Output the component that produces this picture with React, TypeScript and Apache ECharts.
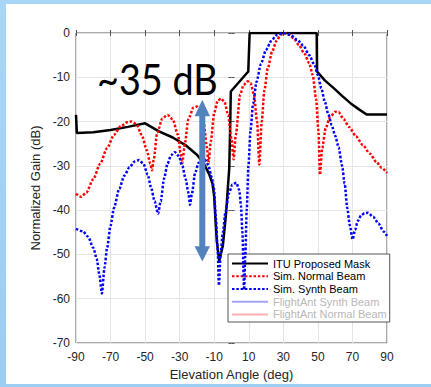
import React, { useEffect, useRef } from "react";
import * as echarts from "echarts";

// ITU Proposed Mask
const maskAngle = [-90, -89.5, -80, -70, -60, -50, -42, -34, -26, -20, -16, -13, -11, -10, -9.3, -8.5, -7.1, -5, -3.2, -1.3, -0.7, -0.4, 9.7, 10.5, 49.3, 49.5, 54, 59, 64, 69, 74, 78.2, 90];
const maskGain = [-18.5, -22.6, -22.4, -21.9, -21.2, -20.4, -22.2, -23.6, -25.5, -27.5, -29.5, -31.8, -34, -37, -42, -47, -51.5, -48, -41, -30.5, -20, -13.2, -8.7, 0, 0, -8.7, -10.7, -12.4, -14.2, -15.9, -17.3, -18.4, -18.4];

// Sim. Normal Beam
const normalAngle = [-90, -87, -84, -80, -76, -72, -68, -64, -60, -58, -55, -52, -49, -47, -46, -45, -43, -40, -37, -34, -31, -29.5, -28.5, -27, -25, -22, -20, -18, -16, -14.2, -13.3, -12, -10, -8, -6, -4, -2, 0, 1.2, 2.5, 5, 7, 9.4, 11, 13, 14.8, 16.1, 17.5, 19, 21, 23.5, 26, 28.5, 31, 33, 36, 39, 42, 45, 47, 49, 50.3, 51.2, 52.5, 54.5, 57, 60, 62, 65, 68, 72, 76, 80, 84, 87, 90];
const normalGain = [-36.3, -37, -36, -33, -29.5, -26, -23, -21, -20.1, -20, -20.6, -23, -26.5, -29.5, -31, -28.5, -22.5, -19.3, -18.5, -19.5, -23, -27, -29.4, -25, -19.5, -16.8, -16.6, -17.5, -20.5, -26, -29.4, -24.5, -18, -15.3, -14.8, -15.6, -18.5, -24, -28.5, -23, -13.9, -11.7, -10.9, -11.3, -13.9, -20, -29.7, -20, -13, -8, -4.2, -1.8, -0.4, 0, -0.3, -1.2, -2.7, -4.5, -6.8, -9.5, -15, -22, -32, -26, -21.5, -19, -17.8, -17.9, -19.5, -21.2, -23.3, -25.3, -27.2, -29.2, -30.5, -31.6];

// Sim. Synth Beam
const synthAngle = [-90, -86, -83, -80, -78, -76.5, -75, -73.5, -72, -70, -68, -65, -62, -59, -56, -53.5, -51, -48.5, -46.5, -44.5, -42.5, -41, -39, -37, -35, -32.8, -30.5, -28.5, -26.5, -25, -24, -23, -21, -19, -17, -15.3, -13.5, -11.5, -10.2, -9, -8, -7.3, -6.3, -5, -3.5, -1.5, 0.5, 2.8, 4.5, 5.5, 6.3, 7.3, 8, 8.8, 9.8, 11, 12.5, 14.5, 17, 20, 23, 26, 30, 34, 38, 41.5, 45, 48, 50, 52, 54, 56, 58, 60, 62, 64, 65.5, 67, 68.5, 70.1, 71.5, 73, 75, 77, 79, 82, 85, 88, 90];
const synthGain = [-44.2, -44.8, -46, -48.5, -51, -54.5, -58.8, -53, -48.5, -43.5, -39.5, -35.2, -32.2, -30.3, -29, -28.7, -29.5, -32, -35, -38, -40.8, -38, -32.8, -29.5, -27.6, -26.9, -27.8, -30, -33, -36, -38.8, -36.5, -31.5, -29.3, -28.6, -28.6, -29.8, -32.5, -35, -42, -49, -57, -50, -45, -40.5, -36.2, -34.2, -33.8, -35.5, -39, -45, -58, -50, -40, -30, -22, -16, -11, -7, -3.8, -1.8, -0.5, 0, -0.4, -1.5, -2.8, -5, -7.2, -9.5, -12.5, -15.5, -18.3, -20.8, -23.2, -25.8, -30, -34, -39.5, -43.5, -46.6, -44.5, -42.5, -41.2, -40.7, -40.6, -41.5, -43, -44.8, -45.8];

const seriesNames = ["ITU Proposed Mask", "Sim. Normal Beam", "Sim. Synth Beam", "FlightAnt Synth Beam", "FlightAnt Normal Beam"];
const xTickMin = -90;
const xTickMax = 90;
const xTickStep = 20;
const yTickMin = -70;
const yTickMax = 0;
const yTickStep = 10;

const zip = (a: number[], b: number[]) => a.map((v, i) => [v, b[i]]);

const FONT = "'Liberation Sans', Arial, sans-serif";

export default function App() {
  const ref = useRef<HTMLDivElement>(null);
  useEffect(() => {
    if (!ref.current) return;
    const chart = echarts.init(ref.current, null, { renderer: "svg" });
    const axisCommon = {
      type: "value" as const,
      axisLine: { show: false },
      axisTick: { show: true, inside: true, length: 3, lineStyle: { color: "#555", width: 1 } },
    };
    chart.setOption({
      animation: false,
      grid: { left: 76, top: 33, width: 311, height: 310, show: true, borderColor: "#555", borderWidth: 1, backgroundColor: "transparent" },
      xAxis: [
        {
          ...axisCommon,
          min: xTickMin, max: xTickMax, interval: xTickStep,
          name: "Elevation Angle (deg)", nameLocation: "middle", nameGap: 24,
          nameTextStyle: { fontFamily: FONT, fontSize: 13, color: "#262626" },
          axisLabel: { fontFamily: FONT, fontSize: 12, color: "#262626", margin: 8 },
          splitLine: { show: true, lineStyle: { color: "#e4e4e4", width: 1 } },
        },
        {
          ...axisCommon, position: "top",
          min: xTickMin, max: xTickMax, interval: xTickStep,
          axisLabel: { show: false }, splitLine: { show: false },
        },
      ],
      yAxis: [
        {
          ...axisCommon,
          min: yTickMin, max: yTickMax, interval: yTickStep,
          name: "Normalized Gain (dB)", nameLocation: "middle", nameGap: 25,
          nameTextStyle: { fontFamily: FONT, fontSize: 13, color: "#262626" },
          axisLabel: { fontFamily: FONT, fontSize: 12, color: "#262626", margin: 6 },
          splitLine: { show: true, lineStyle: { color: "#e4e4e4", width: 1 } },
        },
        {
          ...axisCommon, position: "right",
          min: yTickMin, max: yTickMax, interval: yTickStep,
          axisLabel: { show: false }, splitLine: { show: false },
        },
      ],
      legend: {
        orient: "vertical",
        left: 228,
        top: 254,
        itemWidth: 36,
        itemHeight: 14,
        itemGap: 1.5,
        padding: [4, 3, 2, 3],
        backgroundColor: "#fff",
        borderColor: "#555",
        borderWidth: 1,
        borderRadius: 0,
        selectedMode: false,
        itemStyle: { opacity: 0 },
        textStyle: { fontFamily: FONT, fontSize: 11, color: "#000" },
        data: [
          { name: seriesNames[0] },
          { name: seriesNames[1] },
          { name: seriesNames[2] },
          { name: seriesNames[3], textStyle: { color: "#b8b8b8" } },
          { name: seriesNames[4], textStyle: { color: "#b8b8b8" } },
        ],
      },
      series: [
        {
          name: seriesNames[0], type: "line", data: zip(maskAngle, maskGain),
          symbol: "none", showSymbol: false, color: "#000",
          lineStyle: { color: "#000", width: 2.5 }, z: 3,
        },
        {
          name: seriesNames[1], type: "line", data: zip(normalAngle, normalGain),
          symbol: "none", showSymbol: false, color: "#ff0000", smooth: 0.25, smoothMonotone: "x",
          lineStyle: { color: "#ff0000", width: 2.5, type: [2.5, 1.8] }, z: 4,
        },
        {
          name: seriesNames[2], type: "line", data: zip(synthAngle, synthGain),
          symbol: "none", showSymbol: false, color: "#0000ff", smooth: 0.25, smoothMonotone: "x",
          lineStyle: { color: "#0000ff", width: 2.5, type: [2.5, 1.8] }, z: 5,
        },
        {
          name: seriesNames[3], type: "line", data: [],
          symbol: "none", showSymbol: false, color: "#a3a3ff",
          lineStyle: { color: "#a3a3ff", width: 2.5 },
        },
        {
          name: seriesNames[4], type: "line", data: [],
          symbol: "none", showSymbol: false, color: "#ffb0b0",
          lineStyle: { color: "#ffb0b0", width: 2.5 },
        },
      ],
      graphic: [
        {
          type: "polygon",
          z: 100,
          shape: {
            points: [
              [202.3, 99.7], [210, 116.3], [205.3, 116.3], [205.3, 246.3], [210, 246.3],
              [202.3, 261.5], [194.6, 246.3], [199.3, 246.3], [199.3, 116.3], [194.6, 116.3],
            ],
          },
          style: { fill: "#5482bf" },
        },
        {
          type: "text",
          z: 100,
          x: 97,
          y: 79,
          scaleX: 0.9,
          style: {
            text: "~35 dB",
            font: "42px Lato, 'Open Sans', sans-serif",
            fill: "#000",
            textAlign: "left",
            textVerticalAlign: "middle",
          },
        },
      ],
    });
    return () => chart.dispose();
  }, []);
  return (
    <div style={{ position: "fixed", left: 0, top: 0, width: 431, height: 387, background: "linear-gradient(180deg, #a8d6f7 0%, #9ccdf2 100%)", overflow: "hidden" }}>
      <div style={{ position: "absolute", left: 6, top: 4, width: 425, height: 380, background: "#fff" }} />
      <div ref={ref} style={{ position: "absolute", left: 0, top: 0, width: 431, height: 387 }} />
    </div>
  );
}
